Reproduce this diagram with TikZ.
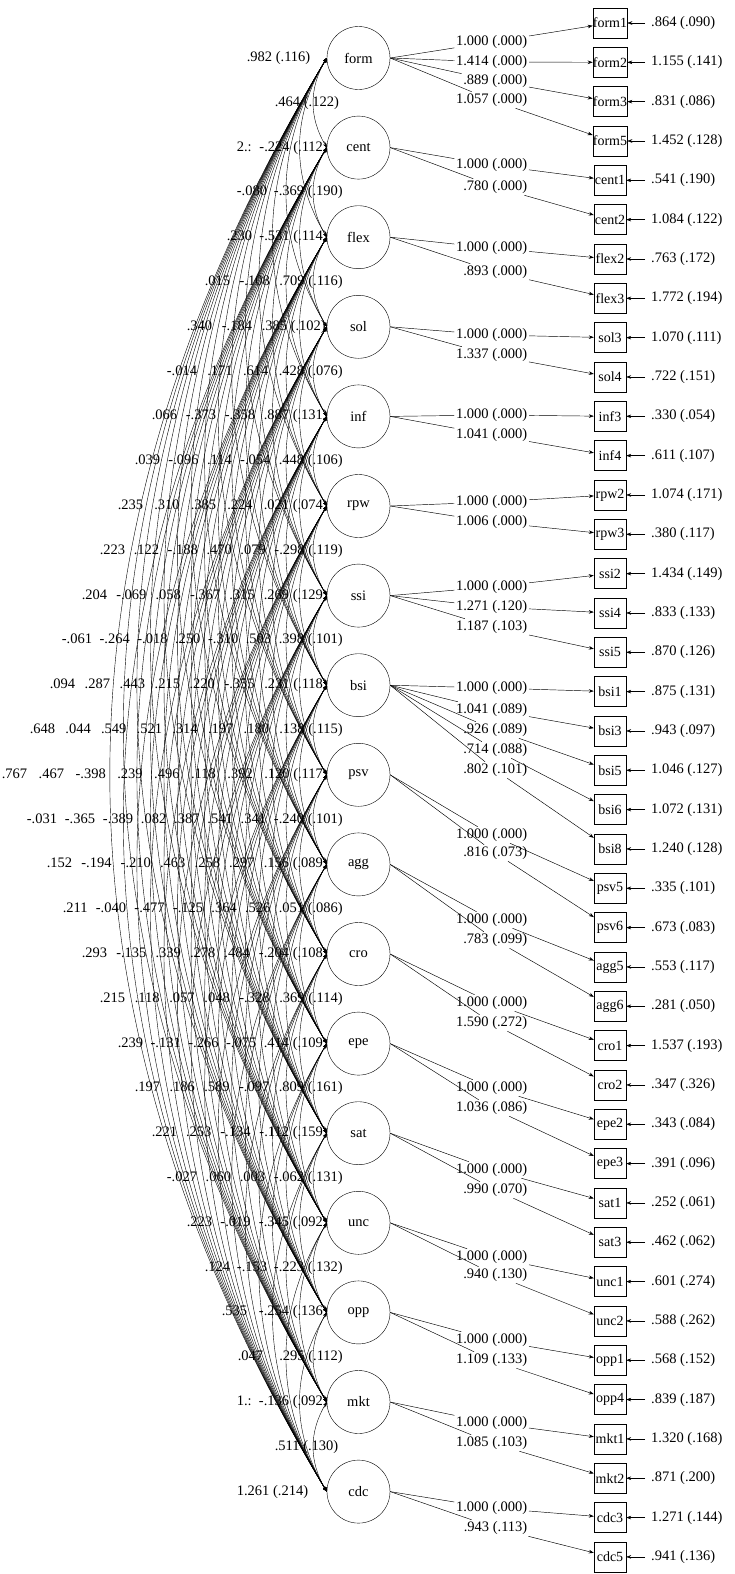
\documentclass[tikz,border=0pt]{standalone}
\usepackage{fontspec}
\setmainfont{Liberation Serif}
\usetikzlibrary{arrows.meta}
\tikzset{
  factor/.style={circle,draw,minimum size=63pt,inner sep=0pt,font=\fontsize{14.5}{16}\selectfont},
  ind/.style={rectangle,draw,minimum width=32pt,minimum height=30pt,inner sep=0pt,font=\fontsize{14}{15}\selectfont},
  loadlab/.style={anchor=east,inner sep=1.5pt,font=\fontsize{14.5}{16}\selectfont},
  errlab/.style={anchor=west,inner xsep=6pt,inner ysep=1pt,font=\fontsize{14.5}{16}\selectfont},
  covlab/.style={anchor=east,inner sep=0pt,font=\fontsize{14.5}{16}\selectfont},
  arr/.style={line width=0.45pt,-{Stealth[length=5pt,width=3.6pt]}},
  ld/.style={line width=0.45pt},
  cov/.style={line width=0.4pt,{Stealth[length=4.5pt,width=3.4pt]}-{Stealth[length=4.5pt,width=3.4pt]}}
}
\newcommand{\covrow}[4]{%
  \pgfmathsetmacro{\ry}{58+44.8*#1}%
  \pgfmathsetmacro{\rw}{#3-#2}%
  \node[covlab] (r#1) at (#3,\ry) {\makebox[\rw pt][s]{#4}};}
\begin{document}
\begin{tikzpicture}[x=1pt,y=-1pt]
\useasboundingbox (0,0) rectangle (735,1574);
% factors
\foreach \n [count=\k from 0] in {form,cent,flex,sol,inf,rpw,ssi,bsi,psv,agg,cro,epe,sat,unc,opp,mkt,cdc}
  \node[factor] (f\k) at (358.5,{58+89.6*\k}) {\n};
% indicators and errors
\foreach \n/\e [count=\i from 0] in {form1/.864 (.090),form2/1.155 (.141),form3/.831 (.086),form5/1.452 (.128),cent1/.541 (.190),cent2/1.084 (.122),flex2/.763 (.172),flex3/1.772 (.194),sol3/1.070 (.111),sol4/.722 (.151),inf3/.330 (.054),inf4/.611 (.107),rpw2/1.074 (.171),rpw3/.380 (.117),ssi2/1.434 (.149),ssi4/.833 (.133),ssi5/.870 (.126),bsi1/.875 (.131),bsi3/.943 (.097),bsi5/1.046 (.127),bsi6/1.072 (.131),bsi8/1.240 (.128),psv5/.335 (.101),psv6/.673 (.083),agg5/.553 (.117),agg6/.281 (.050),cro1/1.537 (.193),cro2/.347 (.326),epe2/.343 (.084),epe3/.391 (.096),sat1/.252 (.061),sat3/.462 (.062),unc1/.601 (.274),unc2/.588 (.262),opp1/.568 (.152),opp4/.839 (.187),mkt1/1.320 (.168),mkt2/.871 (.200),cdc3/1.271 (.144),cdc5/.941 (.136)}
{
  \node[ind] (b\i) at (610,{23+39.33*\i}) {\n};
  \node[errlab] (e\i) at (645,{23+39.33*\i}) {\e};
  \draw[arr] (e\i.west) -- (b\i.east);
}
% loadings
\foreach \fa/\bx/\ly/\tx in {0/0/42/1.000 (.000),0/1/62/1.414 (.000),0/2/81/.889 (.000),0/3/100/1.057 (.000),
  1/4/165/1.000 (.000),1/5/187/.780 (.000),
  2/6/248/1.000 (.000),2/7/272/.893 (.000),
  3/8/335/1.000 (.000),3/9/355/1.337 (.000),
  4/10/415/1.000 (.000),4/11/435/1.041 (.000),
  5/12/502/1.000 (.000),5/13/522/1.006 (.000),
  6/14/587/1.000 (.000),6/15/607/1.271 (.120),6/16/627/1.187 (.103),
  7/17/688/1.000 (.000),7/18/710/1.041 (.089),7/19/730/.926 (.089),7/20/750/.714 (.088),7/21/770/.802 (.101),
  8/22/835/1.000 (.000),8/23/853/.816 (.073),
  9/24/920/1.000 (.000),9/25/940/.783 (.099),
  10/26/1003/1.000 (.000),10/27/1023/1.590 (.272),
  11/28/1088/1.000 (.000),11/29/1108/1.036 (.086),
  12/30/1170/1.000 (.000),12/31/1190/.990 (.070),
  13/32/1257/1.000 (.000),13/33/1275/.940 (.130),
  14/34/1340/1.000 (.000),14/35/1360/1.109 (.133),
  15/36/1423/1.000 (.000),15/37/1443/1.085 (.103),
  16/38/1508/1.000 (.000),16/39/1528/.943 (.113)}
{
  \node[loadlab] (l\bx) at (529,\ly) {\tx};
  \draw[ld] (f\fa.east) -- (l\bx);
  \draw[arr] (l\bx) -- (b\bx);
}
% covariance arcs (bulging to the left)
\foreach \i in {0,...,15}{
  \pgfmathtruncatemacro{\s}{\i+1}
  \foreach \j in {\s,...,16}{
    \pgfmathsetmacro{\ya}{58+89.6*\i}
    \pgfmathsetmacro{\yb}{58+89.6*\j}
    \pgfmathsetmacro{\ch}{\yb-\ya}
    \pgfmathsetmacro{\cx}{327-0.2016*\ch}
    \pgfmathsetmacro{\ca}{\ya+0.3356*\ch}
    \pgfmathsetmacro{\cb}{\yb-0.3356*\ch}
    \draw[cov] (f\i.west) .. controls (\cx,\ca) and (\cx,\cb) .. (f\j.west);
  }
}
% covariance labels
\covrow{0}{247}{315}{\mbox{.982 (.116)}}
\covrow{1}{275}{343}{\mbox{.464 (.122)}}
\covrow{2}{237}{328}{2.: \mbox{-.224 (.112)}}
\covrow{3}{237}{343}{-.080 \mbox{-.369 (.190)}}
\covrow{4}{227}{328}{.230 \mbox{-.531 (.114)}}
\covrow{5}{205}{343}{.015 -.108 \mbox{.709 (.116)}}
\covrow{6}{187}{326}{.340 -.184 \mbox{.385 (.102)}}
\covrow{7}{167}{343}{-.014 .171 .614 \mbox{.428 (.076)}}
\covrow{8}{152}{328}{.066 -.373 -.358 \mbox{.887 (.131)}}
\covrow{9}{135}{343}{.039 -.096 .114 -.054 \mbox{.448 (.106)}}
\covrow{10}{118}{328}{.235 .310 .385 .224 \mbox{.021 (.074)}}
\covrow{11}{100}{343}{.223 .122 -.188 .470 .079 \mbox{-.298 (.119)}}
\covrow{12}{82}{328}{.204 -.069 .058 -.367 .315 \mbox{.269 (.129)}}
\covrow{13}{62}{343}{-.061 -.264 -.018 .250 -.310 .503 \mbox{.398 (.101)}}
\covrow{14}{50}{328}{.094 .287 .443 .215 .220 -.355 \mbox{.231 (.118)}}
\covrow{15}{30}{343}{.648 .044 .549 .521 .314 .197 .180 \mbox{.138 (.115)}}
\covrow{16}{2}{328}{.767 .467 -.398 .239 .496 .118 .392 \mbox{.120 (.117)}}
\covrow{17}{27}{343}{-.031 -.365 -.389 .082 .387 .541 .341 \mbox{-.240 (.101)}}
\covrow{18}{47}{328}{.152 -.194 -.210 .463 .258 .297 \mbox{.156 (.089)}}
\covrow{19}{63}{343}{.211 -.040 -.477 -.125 .364 .526 \mbox{.051 (.086)}}
\covrow{20}{82}{328}{.293 -.135 .339 .278 .484 \mbox{-.204 (.108)}}
\covrow{21}{100}{343}{.215 .118 .057 .048 -.328 \mbox{.369 (.114)}}
\covrow{22}{118}{328}{.239 -.131 -.266 -.075 \mbox{.414 (.109)}}
\covrow{23}{135}{343}{.197 .186 .589 -.097 \mbox{.809 (.161)}}
\covrow{24}{152}{328}{.221 .253 -.134 \mbox{-.112 (.159)}}
\covrow{25}{167}{343}{-.027 .060 .003 \mbox{-.062 (.131)}}
\covrow{26}{187}{328}{.223 -.019 \mbox{-.345 (.092)}}
\covrow{27}{205}{343}{.124 -.153 \mbox{-.223 (.132)}}
\covrow{28}{222}{328}{.535 \mbox{-.254 (.136)}}
\covrow{29}{238}{343}{.047 \mbox{.295 (.112)}}
\covrow{30}{237}{328}{1.: \mbox{-.136 (.092)}}
\covrow{31}{275}{343}{\mbox{.511 (.130)}}
\covrow{32}{237}{313}{\mbox{1.261 (.214)}}
\end{tikzpicture}
\end{document}
